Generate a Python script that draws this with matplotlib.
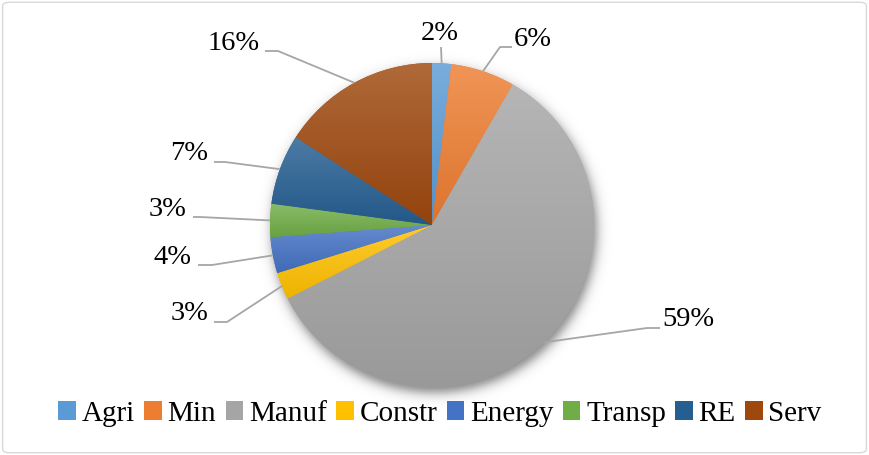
import matplotlib.pyplot as plt
import numpy as np
from matplotlib.colors import to_rgb
from matplotlib.patches import FancyBboxPatch, Patch

# sector shares (%)
sectors = ['Agri', 'Min', 'Manuf', 'Constr', 'Energy', 'Transp', 'RE', 'Serv']
shares = [1.9, 6.4, 59.2, 2.7, 3.6, 3.3, 7.0, 15.9]
colors = ['#5B9BD5', '#ED7D31', '#A5A5A5', '#FFC000', '#4472C4', '#70AD47', '#255E91', '#9E480E']

plt.rcParams['font.family'] = ['Liberation Serif', 'DejaVu Serif']

W, H = 869, 455
cx, cy, R = 432, H - 225, 162

# label layout in pixels (y measured from top): text x, text y, align, elbow x, elbow y, end x
label_pos = [
    (440, 34, 'center', 441, 47, 441),
    (514, 40, 'left', 500, 47, 512),
    (662, 320, 'left', 647, 328, 660),
    (209, 313, 'right', 227, 322, 214),
    (192, 258, 'right', 212, 265, 198),
    (187, 209, 'right', 200, 217, 193),
    (208, 153, 'right', 225, 162, 214),
    (260, 43, 'right', 278, 51, 265),
]


def blend(c, other, t):
    c = np.array(to_rgb(c))
    return c * (1 - t) + np.array(other) * t


fig = plt.figure(figsize=(W / 100, H / 100), dpi=100)
ax = fig.add_axes([0, 0, 1, 1])

# soft drop shadow
yy, xx = np.mgrid[0:H, 0:W]
d = np.hypot(xx - (cx + 2), (H - yy) - (cy - 5))
alpha = 0.5 / (1 + np.exp((d - R) / 3.5))
shadow = np.zeros((H, W, 4))
shadow[..., 3] = alpha
ax.imshow(shadow, extent=(0, W, 0, H), origin='upper', zorder=0)

wedges, _ = ax.pie(shares, colors=colors, startangle=90, counterclock=False,
                   center=(cx, cy), radius=R, wedgeprops=dict(linewidth=0))

for w, c in zip(wedges, colors):
    w.set_zorder(1)
    ang = np.radians(np.linspace(w.theta1, w.theta2, 100))
    xs = np.r_[cx, cx + R * np.cos(ang)]
    ys = np.r_[cy, cy + R * np.sin(ang)]
    top = blend(c, (1, 1, 1), 0.18)
    bot = blend(c, (0, 0, 0), 0.07)
    t = np.linspace(0, 1, 256)[:, None]
    grad = (top[None, :] * (1 - t) + bot[None, :] * t)[:, None, :]
    im = ax.imshow(grad, extent=(xs.min(), xs.max(), ys.min(), ys.max()),
                   origin='upper', aspect='auto', interpolation='bilinear', zorder=2)
    im.set_clip_path(w)

for w, s, (tx, ty, ha, ex, ey, endx) in zip(wedges, shares, label_pos):
    mid = np.radians((w.theta1 + w.theta2) / 2)
    sx, sy = cx + R * np.cos(mid), cy + R * np.sin(mid)
    ax.plot([sx, ex, endx], [sy, H - ey, H - ey], color='#A6A6A6', lw=1.3, zorder=3,
            solid_capstyle='butt')
    ax.text(tx, H - ty, f'{round(s)}%', ha=ha, va='center', fontsize=20.5, color='#000000')

ax.set_xlim(0, W)
ax.set_ylim(0, H)
ax.set_aspect('equal')
ax.axis('off')

handles = [Patch(facecolor=c, edgecolor='none') for c in colors]
fig.legend(handles, sectors, loc='center', bbox_to_anchor=(440 / W, 1 - 414 / H),
           ncol=8, frameon=False, fontsize=21, handlelength=0.6, handleheight=0.6,
           handletextpad=0.2, columnspacing=0.32, borderpad=0)

fig.patches.append(FancyBboxPatch((0.003, 0.005), 0.994, 0.99,
                                  boxstyle='round,pad=0,rounding_size=0.008',
                                  transform=fig.transFigure, fill=False,
                                  ec='#D9D9D9', lw=1))

fig.savefig('out.png', dpi=100)
